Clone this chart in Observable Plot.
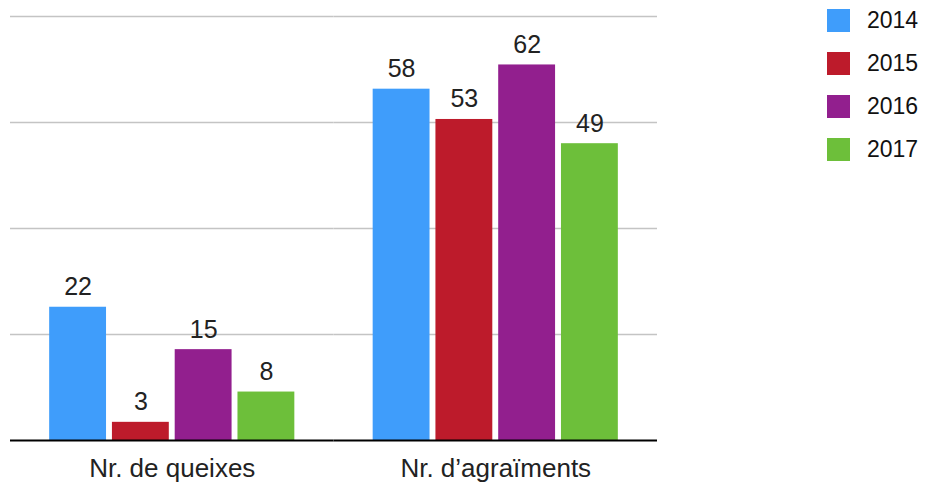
<!DOCTYPE html>
<html>
<head>
<meta charset="utf-8">
<script src="https://cdn.jsdelivr.net/npm/d3@7"></script>
<script src="https://cdn.jsdelivr.net/npm/@observablehq/plot@0.6"></script>
<style>
  html, body { margin: 0; padding: 0; background: #fff; }
  #wrap { position: relative; width: 925px; height: 484px; font-family: "Liberation Sans", Arial, sans-serif; }
  #wrap svg { position: absolute; left: 0; top: 0; }
  #legend { position: absolute; left: 827px; top: 9px; }
  .item { display: flex; align-items: center; height: 23px; margin-bottom: 20px; font-size: 23px; color: #111; }
  .sw { width: 23px; height: 23px; margin-right: 17px; }
</style>
</head>
<body>
<div id="wrap"><div id="legend"></div></div>
<script>
const categories = ["Nr. de queixes", "Nr. d’agraïments"];
const years = ["2014", "2015", "2016", "2017"];
const queixes = [22, 3, 15, 8];
const agraiments = [58, 53, 62, 49];
const colors = ["#3f9dfb", "#bd1b2b", "#921f8e", "#6dbf3a"];
const yTicks = [0, 17.5, 35, 52.5, 70];

const seriesByCat = [queixes, agraiments];
const data = [];
categories.forEach((c, i) => years.forEach((y, j) => data.push({cat: c, year: y, value: seriesByCat[i][j]})));

const chart = Plot.plot({
  width: 925,
  height: 484,
  marginLeft: 10,
  marginRight: 268,
  marginTop: 16,
  marginBottom: 44,
  style: {fontFamily: "'Liberation Sans', Arial, sans-serif", background: "#fff"},
  fx: {domain: categories, paddingInner: 0, paddingOuter: 0, round: false, label: null},
  x: {domain: years, paddingInner: 0.094, paddingOuter: 0.624, round: false, axis: null},
  y: {domain: [0, 70], axis: null},
  color: {domain: years, range: colors},
  marks: [
    Plot.ruleY(yTicks.slice(1), {stroke: "#c4c4c4", strokeWidth: 1.5}),
    Plot.barY(data, {fx: "cat", x: "year", y: "value", fill: "year"}),
    Plot.text(data, {fx: "cat", x: "year", y: "value", text: d => String(d.value), dy: -20, fontSize: 25, fill: "#222"}),
    Plot.ruleY([0], {stroke: "#000", strokeWidth: 2}),
    Plot.axisFx({anchor: "bottom", tickSize: 0, tickPadding: 18, fontSize: 26, fill: "#222", label: null})
  ]
});
document.getElementById("wrap").prepend(chart);

const legend = document.getElementById("legend");
years.forEach((y, i) => {
  const it = document.createElement("div");
  it.className = "item";
  const sw = document.createElement("div");
  sw.className = "sw";
  sw.style.background = colors[i];
  const t = document.createElement("span");
  t.textContent = y;
  it.append(sw, t);
  legend.append(it);
});
</script>
</body>
</html>
